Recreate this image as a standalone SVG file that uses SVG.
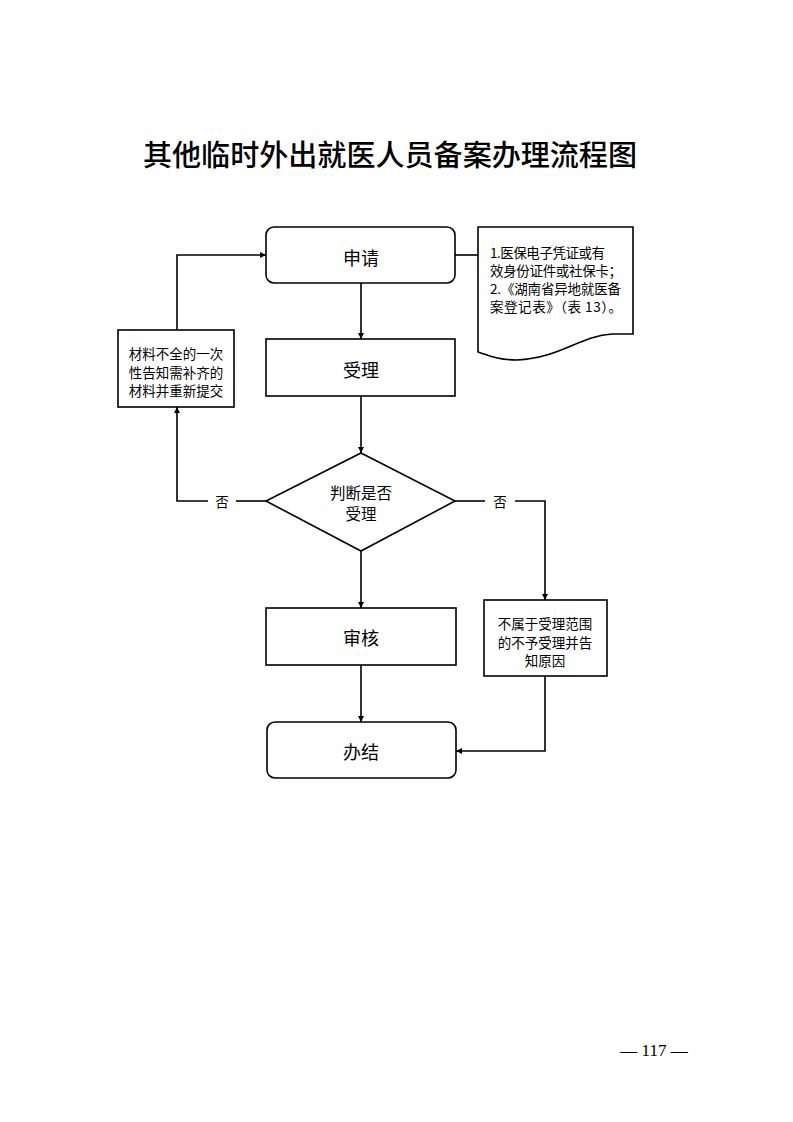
<svg xmlns="http://www.w3.org/2000/svg" width="793" height="1122" viewBox="0 0 793 1122">
<style>
.box{fill:#fff;stroke:#000;stroke-width:1.6}
.ln{fill:none;stroke:#000;stroke-width:1.6}
.t{font-family:"Noto Sans CJK SC","Liberation Sans",sans-serif;fill:#000;text-anchor:middle;dominant-baseline:central}
.big{font-size:18px}
.sm{font-size:13.5px}
.md{font-size:15.5px}
.st{text-anchor:start}
</style>
<defs>
<marker id="ah" viewBox="0 0 10 10" refX="10" refY="5" markerWidth="6" markerHeight="6" orient="auto" markerUnits="userSpaceOnUse">
<path d="M0,0 L10,5 L0,10 Z" fill="#000"/>
</marker>
</defs>
<rect width="793" height="1122" fill="#fff"/>
<text x="390" y="153" class="t" style="font-size:29px;font-weight:500" textLength="494" lengthAdjust="spacingAndGlyphs">其他临时外出就医人员备案办理流程图</text>

<g id="connectors">
<line class="ln" x1="361" y1="283" x2="361" y2="339" marker-end="url(#ah)"/>
<line class="ln" x1="361" y1="396" x2="361" y2="453" marker-end="url(#ah)"/>
<line class="ln" x1="361" y1="551" x2="361" y2="608" marker-end="url(#ah)"/>
<line class="ln" x1="361" y1="665" x2="361" y2="722" marker-end="url(#ah)"/>
<line class="ln" x1="455" y1="255" x2="478" y2="255"/>
<polyline class="ln" points="266,501 236,501"/>
<polyline class="ln" points="208,501 177,501 177,407" marker-end="url(#ah)"/>
<polyline class="ln" points="177,330 177,255 266,255" marker-end="url(#ah)"/>
<polyline class="ln" points="455,501 485,501"/>
<polyline class="ln" points="515,501 545,501 545,600" marker-end="url(#ah)"/>
<polyline class="ln" points="545,676 545,751 456,751" marker-end="url(#ah)"/>
<text x="222" y="501" class="t sm">否</text>
<text x="500" y="501" class="t sm">否</text>
</g>

<g id="n-apply">
<rect class="box" x="266" y="227" width="189" height="56" rx="8"/>
<text x="361" y="257" class="t big">申请</text>
</g>
<g id="n-note">
<path class="box" d="M478,227 H633 V334 H612 C580,336 560,358 517,360 C500,360 490,356 478,352 Z"/>
<text x="490" y="252" class="t sm st" textLength="115" lengthAdjust="spacing">1.医保电子凭证或有</text>
<text x="490" y="270" class="t sm st" textLength="132" lengthAdjust="spacing">效身份证件或社保卡；</text>
<text x="490" y="288" class="t sm st" textLength="131" lengthAdjust="spacing">2.《湖南省异地就医备</text>
<text x="490" y="306" class="t sm st" textLength="132" lengthAdjust="spacing">案登记表》（表 13）。</text>
</g>
<g id="n-accept">
<rect class="box" x="266" y="339" width="189" height="57"/>
<text x="361" y="369" class="t big">受理</text>
</g>
<g id="n-decide">
<polygon class="box" points="361,453 455,501 361,551 266,501"/>
<text x="361" y="492" class="t md">判断是否</text>
<text x="361" y="513" class="t md">受理</text>
</g>
<g id="n-supplement">
<rect class="box" x="118" y="330" width="116" height="77"/>
<text x="176" y="353" class="t sm">材料不全的一次</text>
<text x="176" y="372" class="t sm">性告知需补齐的</text>
<text x="176" y="390" class="t sm">材料并重新提交</text>
</g>
<g id="n-reject">
<rect class="box" x="484" y="600" width="123" height="76"/>
<text x="545" y="623" class="t sm">不属于受理范围</text>
<text x="545" y="642" class="t sm">的不予受理并告</text>
<text x="545" y="660" class="t sm">知原因</text>
</g>
<g id="n-review">
<rect class="box" x="266" y="608" width="190" height="57"/>
<text x="361" y="637" class="t big">审核</text>
</g>
<g id="n-done">
<rect class="box" x="267" y="722" width="189" height="56" rx="8"/>
<text x="361" y="751" class="t big">办结</text>
</g>
<text x="654" y="1050" style="font-family:'Liberation Serif',serif;font-size:17px;text-anchor:middle;dominant-baseline:central">— 117 —</text>
</svg>
